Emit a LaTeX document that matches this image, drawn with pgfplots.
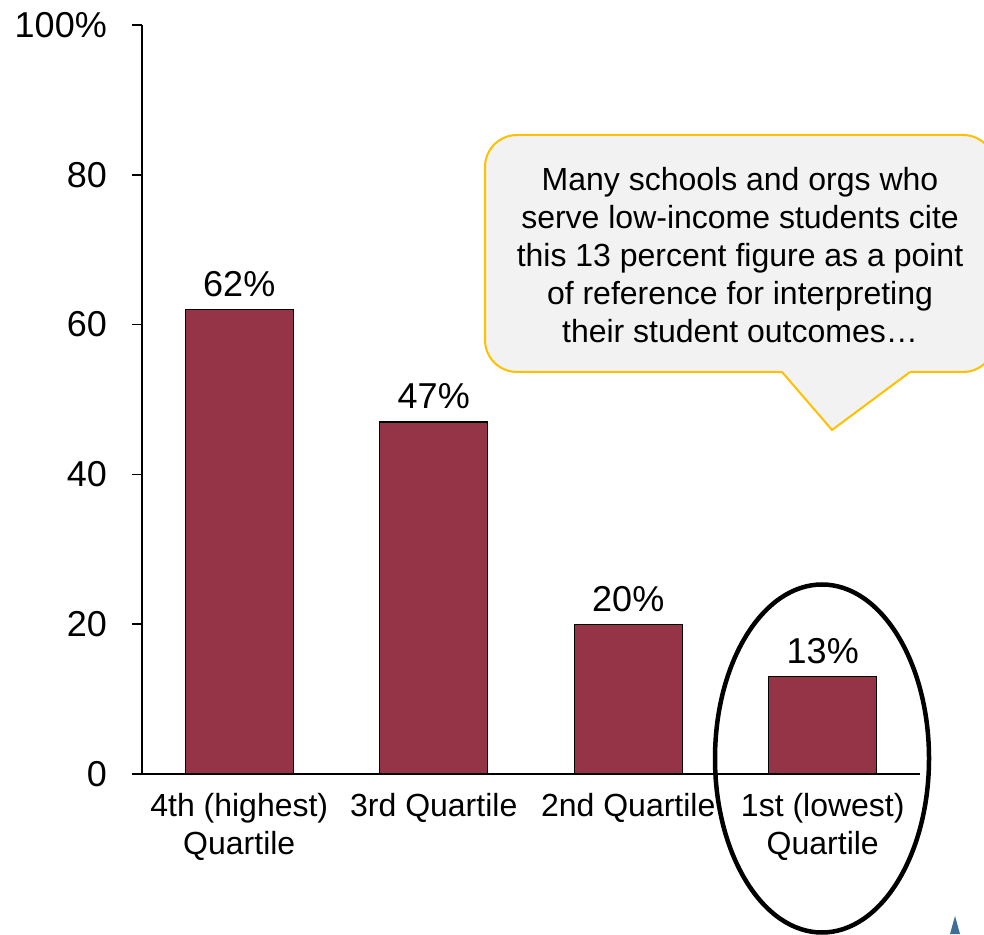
\documentclass[border=0pt]{standalone}
\usepackage{pgfplots}
\pgfplotsset{compat=1.18}
\usepackage{fontspec}
\setmainfont{Liberation Sans}
\definecolor{barred}{HTML}{953446}
\definecolor{callgray}{HTML}{F2F2F2}
\definecolor{callgold}{HTML}{FFC000}
\definecolor{tri}{HTML}{3F6E96}
\begin{document}
\begin{tikzpicture}[x=1pt,y=1pt]
\useasboundingbox (0,0) rectangle (984,934);
\clip (0,0) rectangle (984,934);
\begin{axis}[
  at={(142pt,160pt)}, anchor=south west,
  scale only axis, width=778pt, height=749pt,
  xmin=-0.5, xmax=3.5, ymin=0, ymax=100,
  axis lines=left,
  axis line style={-, line width=1.5pt},
  clip=false,
  /pgf/number format/assume math mode=true,
  xtick=data,
  xticklabels={{4th (highest)\\Quartile},{3rd Quartile},{2nd Quartile},{1st (lowest)\\Quartile}},
  xticklabel style={align=center, anchor=north, inner sep=0pt, yshift=-9pt, font=\fontsize{32}{38}\selectfont},
  xtick style={draw=none},
  ytick={0,20,40,60,80,100},
  yticklabels={0,20,40,60,80,100\%},
  yticklabel style={anchor=east, inner sep=0pt, xshift=-25pt, font=\fontsize{36}{43}\selectfont},
  ytick style={line width=1.5pt, black},
  tick align=outside,
  major tick length=10pt,
  ybar, bar width=108pt, bar shift=0pt,
  nodes near coords={\pgfmathprintnumber{\pgfplotspointmeta}\%},
  nodes near coords style={anchor=base, inner sep=0pt, yshift=13pt, font=\fontsize{36}{43}\selectfont, black},
]
\addplot[fill=barred, draw=black, line width=1.2pt] coordinates {(0,62) (1,47) (2,20) (3,13)};
\end{axis}
% callout
\filldraw[fill=callgray, draw=callgold, line width=2pt, rounded corners=32pt] (485,562) rectangle (995,799);
\fill[callgray] (782,566) -- (782,562) -- (832,504) -- (910,562) -- (910,566) -- cycle;
\draw[callgold, line width=2pt, line join=miter] (782,562) -- (832,504) -- (910,562);
\node[align=center, font=\fontsize{32}{38}\selectfont, inner sep=0pt] at (740,679)
  {Many schools and orgs who\\serve low-income students cite\\this 13 percent figure as a point\\of reference for interpreting\\their student outcomes\ldots};
% ellipse
\draw[black, line width=4.5pt] (822,175.5) ellipse [x radius=107, y radius=174];
% small triangle
\fill[tri] (950,0) -- (955,18) -- (960,0) -- cycle;
\end{tikzpicture}
\end{document}
